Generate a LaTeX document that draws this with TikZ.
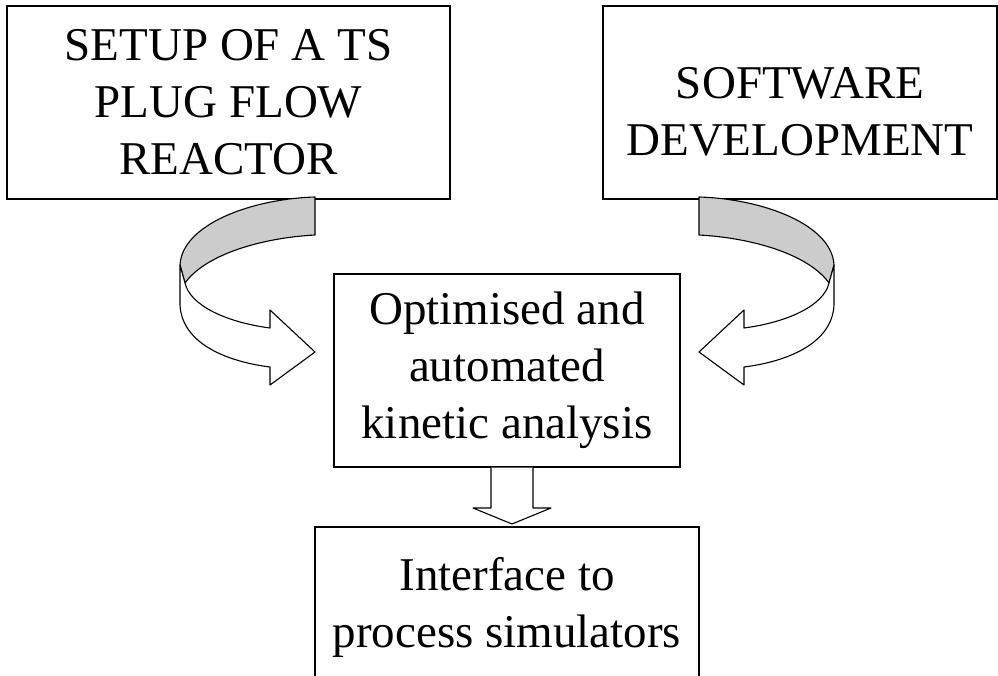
\documentclass[tikz,border=0pt]{standalone}
\usepackage{fontspec}
\setmainfont{Liberation Serif}
\tikzset{
  ribbon/.style={draw=black,line width=1.1pt,line join=round},
}
\begin{document}
\begin{tikzpicture}[x=1pt,y=-1pt]
\clip (0,0) rectangle (998,676);
\begin{scope}[every node/.style={rectangle,draw,line width=1.3pt,align=center,inner sep=0pt,
    font=\fontsize{47}{57}\selectfont}]
  \node[minimum width=443,minimum height=193] (setup) at (228.5,102.5) {SETUP OF A TS\\PLUG FLOW\\REACTOR};
  \node[minimum width=394,minimum height=193,text height=106pt,text depth=0pt] (software) at (800,102.5) {SOFTWARE\\DEVELOPMENT};
  \node[minimum width=346,minimum height=193] (kinetic) at (507,370.5) {Optimised and\\automated\\kinetic analysis};
  \node[minimum width=384,minimum height=160] (interface) at (507,607) {Interface to\\process simulators};
\end{scope}

\begin{scope}[every path/.style={ribbon}]
  \path[fill=black!20] (315,197) .. controls (250,199) and (182,225) .. (180,265)
    -- (185,283) .. controls (205,255) and (260,238) .. (315,235) -- cycle;
  \path[fill=white] (180,265) -- (180,305) .. controls (182,345) and (230,362) .. (270,367)
    -- (270,385) -- (315,352) -- (270,310) -- (270,328)
    .. controls (225,322) and (190,305) .. (185,283) -- cycle;
  \path[fill=black!20] (699,197) .. controls (764,199) and (832,225) .. (834,265)
    -- (829,283) .. controls (809,255) and (754,238) .. (699,235) -- cycle;
  \path[fill=white] (834,265) -- (834,305) .. controls (832,345) and (784,362) .. (744,367)
    -- (744,385) -- (699,352) -- (744,310) -- (744,328)
    .. controls (789,322) and (824,305) .. (829,283) -- cycle;
  \path[fill=white] (kinetic.south -| 491,0) -- (491,508) -- (473,508) -- (512,524)
    -- (551,508) -- (533,508) -- (kinetic.south -| 533,0);
\end{scope}
\end{tikzpicture}
\end{document}
